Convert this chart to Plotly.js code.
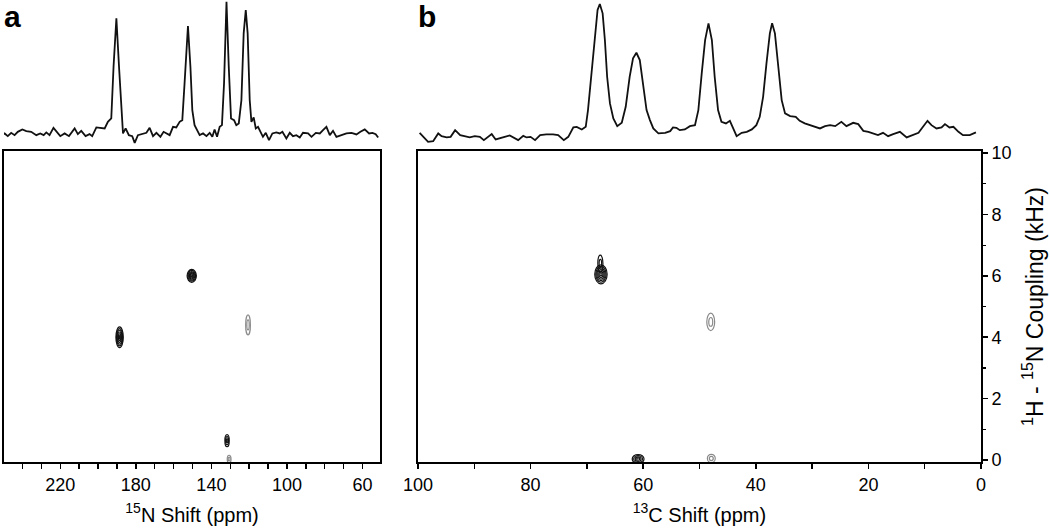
<!DOCTYPE html>
<html>
<head>
<meta charset="utf-8">
<script src="https://cdn.plot.ly/plotly-3.0.1.min.js"></script>
<style>html,body{margin:0;padding:0;background:#fff;}#chart{width:1050px;height:532px;}</style>
</head>
<body>
<div id="chart"></div>
<script>
// ---- Panel a: 1D 15N spectrum (ppm, arbitrary intensity) ----
const aShift = [251.3,249.5,247.8,246.0,244.2,242.5,240.1,238.0,235.4,232.7,
230.6,228.8,227.4,225.7,223.6,221.8,220.0,217.7,215.4,212.4,
210.7,208.9,206.6,204.5,203.1,200.9,198.3,196.5,194.8,193.0,
191.8,190.3,188.9,187.7,186.8,185.4,183.7,181.9,180.6,178.9,
176.6,174.4,172.7,170.9,169.1,167.0,165.3,163.8,162.1,160.3,
158.6,156.8,155.4,154.2,152.4,151.1,150.1,148.9,147.9,146.2,
144.4,142.6,140.9,139.5,138.3,137.0,135.6,134.4,133.3,132.0,
130.8,129.6,128.0,126.8,125.5,124.1,122.9,121.8,120.8,119.7,
118.8,117.6,116.5,115.3,114.0,112.7,111.2,109.5,107.7,105.6,
103.8,102.4,100.3,98.5,96.8,95.0,93.2,91.5,88.8,87.0,
84.7,82.6,80.9,79.1,77.3,75.6,73.8,71.1,68.5,65.8,
63.2,61.1,58.8,56.5,54.7,53.0,51.7];
const aIntensity = [5,6.7,4,7.3,5,8.3,10.7,9,8.3,5,
6.7,5,7.7,5,12.3,8.3,4,6.7,4,11.7,
6,9.3,4,6,4,12.7,11.7,11.7,18.3,21.7,
73.3,121.7,73.3,26.7,6.7,11.7,5,4,-2.7,5,
6,7.3,12.3,4,7.3,3.3,8.3,6.7,5,13.3,
12.7,18.3,20,56.7,114,73.3,30,15,11.7,5,
6.7,4,7.3,3.3,10.7,3.3,13.3,15,56.7,138.3,
73.3,21.7,20,15,16.7,40,106.7,130,106.7,40,
18.3,22.7,11.7,13.3,8.3,3.3,7.3,0,6.7,7.7,
6.7,8.3,1.7,7.3,4,5,2.7,7.3,6.7,3.3,
7.3,6.7,10,13.3,5,9.3,3.3,5,6.7,7.3,
5.7,8.3,10.7,6.7,7.3,6,2.7];

// ---- Panel b: 1D 13C spectrum ----
const bShift = [99.7,99.1,98.2,97.3,96.4,95.8,94.9,94.2,93.4,92.5,
91.7,90.8,89.9,89.0,88.3,87.5,86.9,86.2,85.4,84.6,
83.7,82.8,82.2,81.3,80.7,80.0,79.2,78.3,77.2,76.0,
75.1,74.1,73.3,72.4,71.8,70.9,70.2,69.8,69.2,68.6,
68.1,67.7,67.2,66.8,66.4,65.9,65.3,64.6,63.8,63.1,
62.4,61.8,61.2,60.6,60.0,59.4,58.8,58.2,57.3,56.1,
55.2,54.7,54.1,53.5,52.6,51.7,50.8,50.2,49.6,49.0,
48.4,47.8,47.3,46.7,46.1,45.3,44.6,44.0,43.4,42.5,
41.6,40.7,39.9,39.3,38.7,38.1,37.5,37.1,36.6,36.0,
35.4,34.8,33.9,32.9,32.2,31.3,30.4,29.5,28.6,27.7,
26.8,25.9,24.8,23.9,22.7,21.8,20.9,20.0,19.1,18.3,
17.4,16.5,15.6,14.4,13.2,12.3,11.1,10.3,9.5,8.8,
7.9,7.0,6.4,5.6,4.9,4.0,3.2,2.0,0.9];
const bIntensity = [7.3,3.3,-1.7,-1,6.7,4,2.7,3.3,10,5,
4,2.7,4,3.3,0,4,6,0.7,1.7,3.3,
4.7,1.7,0,4.3,2.7,3.3,0,5,5.7,5.7,
5,0,3.3,12.7,13.3,10.7,13.3,30,66.7,106.7,
130,136,126.7,100,63.3,36.7,21.7,14,17.3,33.3,
63.3,81.7,87.3,80,56.7,30,20,11.7,6.7,7.3,
9,12.7,12.3,10,10.7,14,15,30,66.7,100,
116.7,100,63.3,30,18.3,16.7,19.3,11.7,4,7.3,
8.3,10.7,15,23.3,43.3,76.7,106.7,116.7,106.7,73.3,
40,26.7,24,23.3,19.3,16.7,15,13.3,11.7,14,
15,14,18.3,14,17.3,16,9.3,8.3,6.7,5,
7.3,4,6,8.3,2.7,5,7.3,13.3,19.3,15,
11.7,12.7,16,12.7,13.3,8.3,5,5,7.7];

// ---- 2D cross peaks (shift ppm, coupling kHz, extents, contour levels, sign) ----
const aPeakShift    = [150.4, 188.6, 120.6, 131.7, 130.6];
const aPeakCoupling = [6.0, 4.0, 4.4, 0.63, 0.03];
const aPeakWidth    = [4.9, 3.9, 2.5, 2.3, 2.0];
const aPeakHeight   = [0.42, 0.68, 0.65, 0.39, 0.25];
const aPeakLevels   = [6, 6, 2, 3, 2];
const aPeakSign     = [1, 1, -1, 1, -1];

const bPeakShift    = [67.5, 67.6, 48.0, 60.9, 47.9];
const bPeakCoupling = [6.05, 6.4, 4.5, 0.03, 0.05];
const bPeakWidth    = [2.2, 0.9, 1.4, 2.1, 1.4];
const bPeakHeight   = [0.62, 0.55, 0.57, 0.3, 0.27];
const bPeakLevels   = [6, 2, 2, 4, 2];
const bPeakSign     = [1, 1, -1, 1, -1];

// ---- tick labels ----
const aTickVals = [220, 180, 140, 100, 60];
const aTickText = ['220', '180', '140', '100', '60'];
const bTickVals = [100, 80, 60, 40, 20, 0];
const bTickText = ['100', '80', '60', '40', '20', '0'];
const yTickVals = [0, 2, 4, 6, 8, 10];
const yTickText = ['0', '2', '4', '6', '8', '10'];

const FONT = 'Liberation Sans, Arial, Helvetica, sans-serif';

function peakShapes(xs, ys, ws, hs, lv, sg, xref, yref) {
  const out = [];
  for (let i = 0; i < xs.length; i++) {
    for (let k = 0; k < lv[i]; k++) {
      const f = (lv[i] - k) / lv[i];
      out.push({
        type: 'circle', xref: xref, yref: yref, layer: 'above',
        x0: xs[i] - ws[i] / 2 * f, x1: xs[i] + ws[i] / 2 * f,
        y0: ys[i] - hs[i] / 2 * f, y1: ys[i] + hs[i] / 2 * f,
        line: {color: sg[i] > 0 ? '#111' : '#8a8a8a', width: 1.2}
      });
    }
  }
  return out;
}

const traces = [
  {x: aShift, y: aIntensity, xaxis: 'x3', yaxis: 'y3', type: 'scatter', mode: 'lines',
   line: {color: '#111', width: 1.8}, hoverinfo: 'skip'},
  {x: bShift, y: bIntensity, xaxis: 'x4', yaxis: 'y4', type: 'scatter', mode: 'lines',
   line: {color: '#111', width: 1.8}, hoverinfo: 'skip'}
];

const axBase = {
  showline: true, linecolor: '#000', linewidth: 2, mirror: true,
  ticks: 'outside', tickcolor: '#000', tickwidth: 1.5, ticklen: 5,
  showgrid: false, zeroline: false, automargin: false,
  tickfont: {family: FONT, size: 18, color: '#000'}
};

const domA = [0, 0.3849], domB = [0.4237, 1];
const dom2D = [0, 0.673], domSpec = [0.688, 1];

const layout = {
  width: 1050, height: 532,
  margin: {l: 4, r: 69, t: 0, b: 70},
  paper_bgcolor: '#fff', plot_bgcolor: 'rgba(0,0,0,0)',
  showlegend: false,
  font: {family: FONT, color: '#000'},
  xaxis: Object.assign({}, axBase, {
    domain: domA, range: [249.8, 50.7], anchor: 'y',
    tickmode: 'array', tickvals: aTickVals, ticktext: aTickText,
    minor: {dtick: 10, tick0: 0, ticks: 'outside', ticklen: 5, tickcolor: '#000', tickwidth: 1.5},
    title: {text: '<sup>15</sup>N Shift (ppm)', font: {family: FONT, size: 20}, standoff: 14}
  }),
  yaxis: Object.assign({}, axBase, {
    domain: dom2D, range: [-0.065, 10.065], anchor: 'x',
    ticks: '', showticklabels: false
  }),
  xaxis2: Object.assign({}, axBase, {
    domain: domB, range: [100, 0], anchor: 'y2',
    tickmode: 'array', tickvals: bTickVals, ticktext: bTickText,
    minor: {dtick: 10, tick0: 0, ticks: 'outside', ticklen: 5, tickcolor: '#000', tickwidth: 1.5},
    title: {text: '<sup>13</sup>C Shift (ppm)', font: {family: FONT, size: 20}, standoff: 14}
  }),
  yaxis2: Object.assign({}, axBase, {
    domain: dom2D, range: [-0.065, 10.065], anchor: 'x2', side: 'right',
    tickmode: 'array', tickvals: yTickVals, ticktext: yTickText,
    minor: {dtick: 1, tick0: 0, ticks: 'outside', ticklen: 3, tickcolor: '#000', tickwidth: 1.2},
    title: {text: '<sup>1</sup>H - <sup>15</sup>N Coupling (kHz)', font: {family: FONT, size: 23}, standoff: 16}
  }),
  xaxis3: {domain: domA, range: [249.8, 50.7], anchor: 'y3', visible: false, fixedrange: true},
  yaxis3: {domain: domSpec, range: [-4, 140], anchor: 'x3', visible: false, fixedrange: true},
  xaxis4: {domain: domB, range: [100, 0], anchor: 'y4', visible: false, fixedrange: true},
  yaxis4: {domain: domSpec, range: [-4, 140], anchor: 'x4', visible: false, fixedrange: true},
  shapes: [].concat(
    peakShapes(aPeakShift, aPeakCoupling, aPeakWidth, aPeakHeight, aPeakLevels, aPeakSign, 'x', 'y'),
    peakShapes(bPeakShift, bPeakCoupling, bPeakWidth, bPeakHeight, bPeakLevels, bPeakSign, 'x2', 'y2')
  ),
  annotations: [
    {text: '<b>a</b>', xref: 'paper', yref: 'paper', x: -0.002, y: 1.004, xanchor: 'left', yanchor: 'top',
     showarrow: false, font: {family: FONT, size: 30, color: '#000'}},
    {text: '<b>b</b>', xref: 'paper', yref: 'paper', x: 0.4222, y: 1.004, xanchor: 'left', yanchor: 'top',
     showarrow: false, font: {family: FONT, size: 30, color: '#000'}}
  ]
};

Plotly.newPlot('chart', traces, layout, {staticPlot: true, displayModeBar: false});
</script>
</body>
</html>
